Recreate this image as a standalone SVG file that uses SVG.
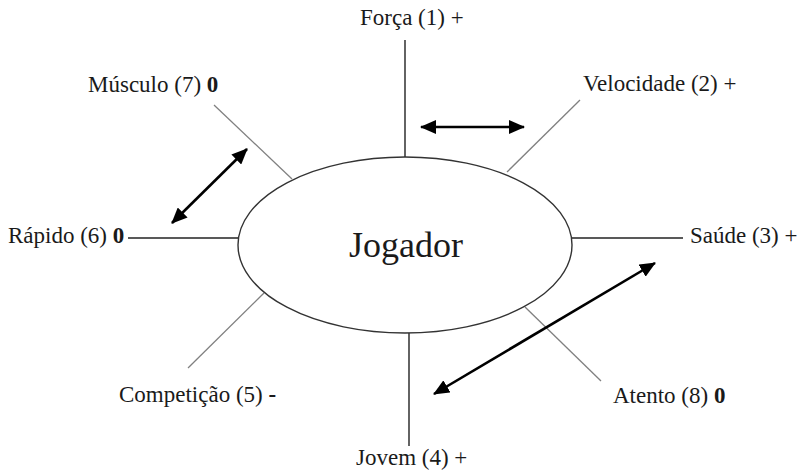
<svg xmlns="http://www.w3.org/2000/svg" width="803" height="474" viewBox="0 0 803 474">
  <style>
    .lbl { font-family: "Liberation Serif", "Times New Roman", serif; font-size: 23px; fill: #1a1a1a; }
    .b { font-weight: bold; }
    .center { font-family: "Liberation Serif", "Times New Roman", serif; font-size: 36px; fill: #1a1a1a; }
    .spoke { stroke: #222; stroke-width: 1.4; fill: none; }
    .spoke-light { stroke: #808080; stroke-width: 1.3; fill: none; }
    .rel { stroke: #000; stroke-width: 2.6; fill: none; marker-start: url(#head); marker-end: url(#head); }
  </style>
  <defs>
    <marker id="head" viewBox="0 0 16 14" refX="15" refY="7" markerWidth="16" markerHeight="14" markerUnits="userSpaceOnUse" orient="auto-start-reverse">
      <path d="M0,0 L16,7 L0,14 Z" fill="#000"/>
    </marker>
  </defs>
  <rect width="803" height="474" fill="#fff"/>

  <g id="connectors">
    <line class="spoke" x1="405" y1="40" x2="405" y2="157"/>
    <line class="spoke-light" x1="580" y1="100" x2="507" y2="172"/>
    <line class="spoke" x1="572" y1="238" x2="683" y2="238"/>
    <line class="spoke-light" x1="525" y1="307" x2="601" y2="381"/>
    <line class="spoke" x1="409" y1="333" x2="409" y2="446"/>
    <line class="spoke-light" x1="264" y1="293" x2="188" y2="368"/>
    <line class="spoke" x1="128" y1="238" x2="238" y2="238"/>
    <line class="spoke-light" x1="214" y1="105" x2="292" y2="179"/>
    <line class="rel" x1="421" y1="127" x2="524" y2="127"/>
    <line class="rel" x1="247" y1="149" x2="172" y2="223"/>
    <line class="rel" x1="655" y1="263" x2="434" y2="394"/>
  </g>

  <g id="jogador">
    <ellipse cx="405" cy="245" rx="167" ry="88" fill="#fff" stroke="#333" stroke-width="1.4"/>
    <text class="center" x="349" y="257">Jogador</text>
  </g>
  <g id="forca"><text class="lbl" x="360" y="25">Força (1) +</text></g>
  <g id="velocidade"><text class="lbl" x="583" y="91">Velocidade (2) +</text></g>
  <g id="saude"><text class="lbl" x="690" y="243">Saúde (3) +</text></g>
  <g id="jovem"><text class="lbl" x="356" y="465">Jovem (4) +</text></g>
  <g id="competicao"><text class="lbl" x="119" y="402">Competição (5) <tspan class="b">-</tspan></text></g>
  <g id="rapido"><text class="lbl" x="8" y="243">Rápido (6) <tspan class="b">0</tspan></text></g>
  <g id="musculo"><text class="lbl" x="88" y="92">Músculo (7) <tspan class="b">0</tspan></text></g>
  <g id="atento"><text class="lbl" x="613" y="403">Atento (8) <tspan class="b">0</tspan></text></g>
</svg>
